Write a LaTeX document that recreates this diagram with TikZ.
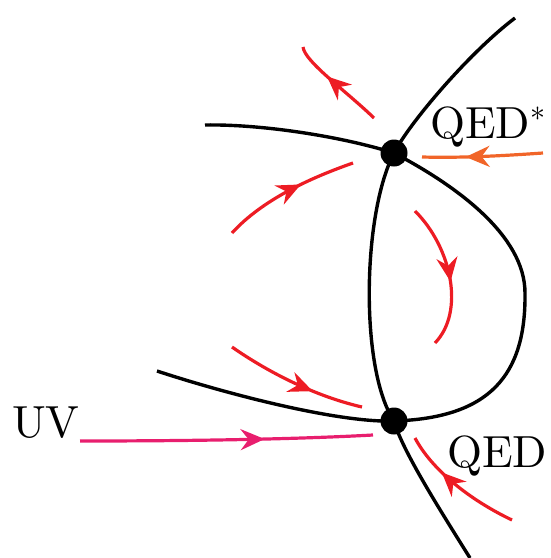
\documentclass[tikz,border=0pt]{standalone}
\usepackage{fontspec}
\setmainfont{lmroman10-regular.otf}
\usetikzlibrary{arrows.meta,decorations.markings}
\definecolor{flowred}{RGB}{237,28,36}
\definecolor{floworange}{RGB}{241,101,41}
\definecolor{flowpink}{RGB}{232,30,110}
\tikzset{
  sep/.style={line width=3.4pt, black},
  flow/.style={line width=3.2pt, flowred, postaction={decorate},
    decoration={markings, mark=at position #1 with {\arrow{Stealth[length=24pt,width=21pt,inset=8pt]}}}},
  flow/.default=0.6,
  fixpt/.style={circle, fill=black, inner sep=0pt, minimum size=27pt},
  lab/.style={font=\fontsize{45}{54}\selectfont, inner sep=0pt, anchor=base west}
}
\begin{document}
\begin{tikzpicture}[x=1pt,y=-1pt]
\useasboundingbox (0,0) rectangle (550,558);
\coordinate (qs) at (394,153);
\coordinate (q) at (394,421);
% separatrices
\draw[sep] (515,18) .. controls (470,52) and (410,122) .. (qs);
\draw[sep] (qs) .. controls (362,215) and (360,370) .. (q);
\draw[sep] (q) .. controls (402,450) and (440,510) .. (470,558);
\draw[sep] (205,125) .. controls (260,124) and (340,136) .. (qs);
\draw[sep] (qs) .. controls (455,185) and (525,235) .. (525,293)
               .. controls (526,375) and (490,418) .. (q);
\draw[sep] (q) .. controls (340,423) and (230,395) .. (157,371);
% flows
\draw[flow=0.62] (374,118) .. controls (345,90) and (305,62) .. (303,47);
\draw[flow=0.6] (232,233) .. controls (262,200) and (310,178) .. (353,163);
\draw[flow=0.55] (415,211) .. controls (452,248) and (465,312) .. (435,343);
\draw[flow=0.64] (232,347) .. controls (262,368) and (310,395) .. (362,407);
\draw[flow=0.66] (512,520) .. controls (470,500) and (432,470) .. (415,438);
\draw[flow=0.64, floworange] (543,153) .. controls (500,156) and (460,158) .. (422,157);
\draw[flow=0.63, flowpink] (80,441) .. controls (200,441) and (300,439) .. (373,435);
% fixed points
\node[fixpt] (qsdot) at (qs) {};
\node[fixpt] (qdot) at (q) {};
% labels
\node[lab] (lqs) at (430,138) {QED\raisebox{9pt}{\fontsize{30}{30}\selectfont *}};
\node[lab] (lq) at (447,467) {QED};
\node[lab] (luv) at (12,437) {UV};
\end{tikzpicture}
\end{document}
